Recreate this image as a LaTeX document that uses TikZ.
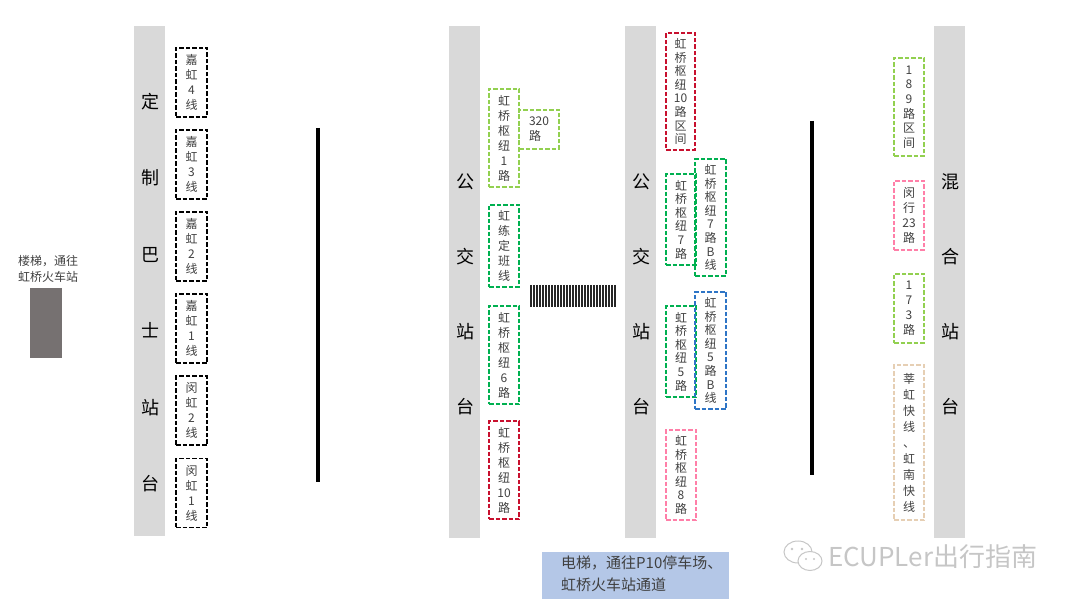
\documentclass[tikz,border=0pt]{standalone}
\usepackage{fontspec}
\setmainfont{Noto Sans CJK SC}
\definecolor{barg}{HTML}{D9D9D9}
\definecolor{txt}{HTML}{404040}
\definecolor{lgreen}{HTML}{92D050}
\definecolor{dgreen}{HTML}{00B050}
\definecolor{cred}{HTML}{C8102E}
\definecolor{cpink}{HTML}{FF7FA8}
\definecolor{cblue}{HTML}{2E75C6}
\definecolor{ctan}{HTML}{E6CFB4}
\definecolor{stairg}{HTML}{767171}
\definecolor{liftb}{HTML}{B4C7E7}
\tikzset{
  bar/.style={fill=barg, draw=none},
  dbox/.style={draw=#1, dash pattern=on 4.5pt off 2pt, line width=1.3pt,
    inner sep=0pt, align=center, text=txt, font=\fontsize{12}{15}\selectfont},
  tight/.style={font=\fontsize{12}{13.6}\selectfont},
  bartext/.style={align=center, text=black, font=\fontsize{18}{76.5}\selectfont},
  wall/.style={line width=4.5pt, black},
}
\begin{document}
\begin{tikzpicture}[x=1pt,y=-1pt]
\useasboundingbox (0,0) rectangle (1080,604);
% bars
\fill[bar] (134,26) rectangle (165,536);
\fill[bar] (449,26) rectangle (480,538);
\fill[bar] (625,26) rectangle (656,538);
\fill[bar] (934,26) rectangle (965,538);
\node[bartext] (t1) at (150,292.5) {定\\制\\巴\\士\\站\\台};
\node[bartext, font=\fontsize{18}{75}\selectfont] (t2) at (465,294.5) {公\\交\\站\\台};
\node[bartext, font=\fontsize{18}{75}\selectfont] (t3) at (641,294.5) {公\\交\\站\\台};
\node[bartext, font=\fontsize{18}{75}\selectfont] (t4) at (950,294) {混\\合\\站\\台};
% left stairs
\node[align=center, text=txt, font=\fontsize{12}{16}\selectfont] (stairl) at (48,269) {楼梯，通往\\虹桥火车站};
\node[fill=stairg, minimum width=32pt, minimum height=70pt, inner sep=0pt] (stair) at (46,323) {};
% left boxes
\node[dbox=black, minimum width=31pt, minimum height=69pt] (jh4) at (191.5,82.5) {嘉\\虹\\4\\线};
\node[dbox=black, minimum width=31pt, minimum height=69pt] (jh3) at (191.5,164.5) {嘉\\虹\\3\\线};
\node[dbox=black, minimum width=31pt, minimum height=69pt] (jh2) at (191.5,246.5) {嘉\\虹\\2\\线};
\node[dbox=black, minimum width=31pt, minimum height=69pt] (jh1) at (191.5,328.5) {嘉\\虹\\1\\线};
\node[dbox=black, minimum width=31pt, minimum height=69pt] (mh2) at (191.5,410.5) {闵\\虹\\2\\线};
\node[dbox=black, minimum width=31pt, minimum height=69pt] (mh1) at (191.5,493) {闵\\虹\\1\\线};
% walls
\draw[wall] (318,128) -- (318,482);
\draw[wall] (812,121) -- (812,475);
% middle boxes
\node[dbox=lgreen, minimum width=30pt, minimum height=98pt] (h1) at (504,138) {虹\\桥\\枢\\纽\\1\\路};
\node[dbox=lgreen, minimum width=40pt, minimum height=39pt, align=left] (r320) at (539,129.5) {320\\路};
\node[dbox=dgreen, minimum width=30pt, minimum height=82pt] (hl) at (504,246) {虹\\练\\定\\班\\线};
\node[dbox=dgreen, minimum width=30pt, minimum height=98pt] (h6) at (504,355) {虹\\桥\\枢\\纽\\6\\路};
\node[dbox=cred, minimum width=30pt, minimum height=98pt] (h10) at (504,470) {虹\\桥\\枢\\纽\\10\\路};
% escalator
\foreach \i in {0,...,28} {
  \draw[line width=2pt, black!85] (530.5+3*\i,285) -- (530.5+3*\i,307);
}
% third column boxes
\node[dbox=cred, tight, minimum width=29pt, minimum height=117pt] (h10q) at (680.5,91.5) {虹\\桥\\枢\\纽\\10\\路\\区\\间};
\node[dbox=dgreen, tight, minimum width=30pt, minimum height=91pt] (h7) at (681,219.5) {虹\\桥\\枢\\纽\\7\\路};
\node[dbox=dgreen, tight, minimum width=31pt, minimum height=117pt] (h7b) at (710.5,217.5) {虹\\桥\\枢\\纽\\7\\路\\B\\线};
\node[dbox=dgreen, tight, minimum width=30pt, minimum height=91pt] (h5) at (681,351.5) {虹\\桥\\枢\\纽\\5\\路};
\node[dbox=cblue, tight, minimum width=31pt, minimum height=117pt] (h5b) at (710.5,350.5) {虹\\桥\\枢\\纽\\5\\路\\B\\线};
\node[dbox=cpink, tight, minimum width=30pt, minimum height=90pt] (h8) at (681,475) {虹\\桥\\枢\\纽\\8\\路};
% right boxes
\node[dbox=lgreen, font=\fontsize{12}{14.6}\selectfont, minimum width=30pt, minimum height=98pt] (b189) at (909,107) {1\\8\\9\\路\\区\\间};
\node[dbox=cpink, minimum width=30pt, minimum height=69pt] (m23) at (909,215.5) {闵\\行\\23\\路};
\node[dbox=lgreen, minimum width=30pt, minimum height=69pt] (b173) at (909,308.5) {1\\7\\3\\路};
\node[dbox=ctan, font=\fontsize{12}{16}\selectfont, minimum width=30pt, minimum height=155pt] (kx) at (909,442.5) {莘\\虹\\快\\线\\、\\虹\\南\\快\\线};
% lift
\node[fill=liftb, minimum width=187pt, minimum height=47pt, inner sep=0pt] (lift) at (635.5,575.5) {};
\node[align=left, anchor=west, text=txt, font=\fontsize{15}{22}\selectfont, inner sep=0pt] (liftt) at (561,574) {电梯，通往P10停车场、\\虹桥火车站通道};
% watermark
\draw[gray!45, line width=1pt, fill=white] (798,552) ellipse (14pt and 11pt);
\draw[gray!45, line width=1pt, fill=white] (810,561) ellipse (12pt and 9.5pt);
\fill[gray!45] (792,549) circle (1.3pt) (802,549) circle (1.3pt) (806,559) circle (1.1pt) (814,559) circle (1.1pt);
\node[anchor=west, text=gray!45, font=\fontsize{26}{26}\selectfont, inner sep=0pt] (wm) at (828,557) {ECUPLer出行指南};
\end{tikzpicture}
\end{document}
